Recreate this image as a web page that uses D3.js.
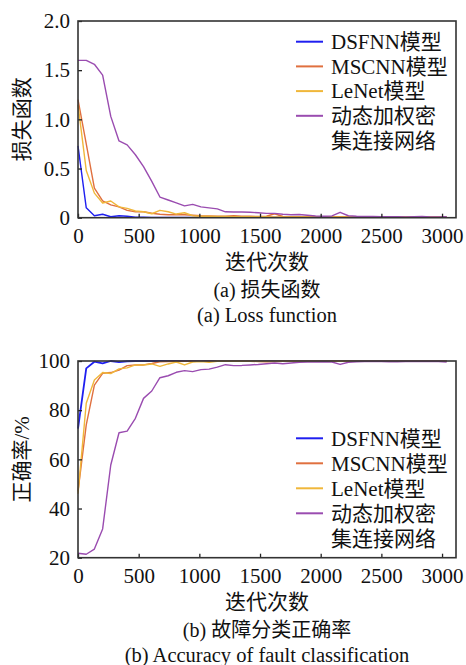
<!DOCTYPE html>
<html lang="zh">
<head>
<meta charset="UTF-8">
<title>损失函数与故障分类正确率</title>
<script src="https://d3js.org/d3.v7.min.js"></script>
<style>
  body, html { margin: 0; padding: 0; background: #fff; overflow: hidden; }
  svg text { font-family: "Liberation Serif", "Times New Roman", "Noto Sans CJK SC", serif; fill: #111; }
  .axis path { display: none; }
  .axis line { stroke: #222; stroke-width: 1.3px; }
  .axis text { font-size: 21px; font-family: "Liberation Serif", "Noto Sans CJK SC", serif; }
  .frame { fill: none; stroke: #333; stroke-width: 1.6px; }
</style>
</head>
<body>
<svg id="chart" width="466" height="665"></svg>
<script>
// iteration counts (x)
const iterations = [0, 68, 135, 203, 270, 338, 405, 473, 540, 608, 675, 743, 810, 878, 945, 1013,
  1080, 1148, 1215, 1283, 1350, 1418, 1485, 1553, 1620, 1688, 1755, 1823, 1890, 1958, 2025, 2093,
  2160, 2228, 2295, 2363, 2430, 2498, 2565, 2633, 2700, 2768, 2835, 2903, 2970, 3038];

const seriesNames = ["DSFNN模型", "MSCNN模型", "LeNet模型", "动态加权密\n集连接网络"];
const seriesColors = ["#1f1ff0", "#e0703f", "#f0b73a", "#9a4cb0"];

// (a) loss
const lossDSFNN = [0.73, 0.10, 0.02, 0.035, 0.01, 0.02, 0.015, 0.006, 0.004, 0.003, 0.003, 0.003, 0.003, 0.003, 0.003, 0.003,
  0.003, 0.003, 0.003, 0.003, 0.003, 0.003, 0.003, 0.003, 0.003, 0.003, 0.003, 0.003, 0.003, 0.003, 0.003, 0.003,
  0.003, 0.003, 0.003, 0.003, 0.003, 0.003, 0.003, 0.003, 0.003, 0.003, 0.003, 0.003, 0.003, 0.003];
const lossMSCNN = [1.20, 0.75, 0.30, 0.17, 0.13, 0.11, 0.075, 0.06, 0.06, 0.045, 0.035, 0.03, 0.03, 0.03, 0.025, 0.02,
  0.018, 0.015, 0.015, 0.02, 0.015, 0.015, 0.012, 0.015, 0.04, 0.012, 0.01, 0.01, 0.01, 0.009, 0.009, 0.009,
  0.009, 0.009, 0.008, 0.008, 0.008, 0.008, 0.008, 0.008, 0.008, 0.008, 0.008, 0.008, 0.008, 0.008];
const lossLeNet = [1.15, 0.48, 0.25, 0.15, 0.17, 0.11, 0.095, 0.068, 0.06, 0.04, 0.075, 0.06, 0.037, 0.05, 0.02, 0.015,
  0.015, 0.012, 0.012, 0.01, 0.01, 0.009, 0.009, 0.009, 0.008, 0.008, 0.008, 0.008, 0.008, 0.008, 0.008, 0.008,
  0.008, 0.008, 0.008, 0.008, 0.008, 0.008, 0.008, 0.008, 0.008, 0.008, 0.008, 0.008, 0.008, 0.008];
const lossDense = [1.60, 1.60, 1.56, 1.45, 1.03, 0.78, 0.74, 0.64, 0.52, 0.37, 0.21, 0.18, 0.15, 0.12, 0.135, 0.11,
  0.10, 0.09, 0.06, 0.058, 0.058, 0.056, 0.05, 0.044, 0.044, 0.035, 0.03, 0.033, 0.025, 0.018, 0.015, 0.018,
  0.055, 0.02, 0.015, 0.012, 0.012, 0.01, 0.01, 0.01, 0.008, 0.01, 0.012, 0.008, 0.008, 0.01];

// (b) accuracy, %
const accDSFNN = [72.5, 97.0, 99.7, 99.0, 100, 99.5, 99.9, 100, 100, 100, 100, 100, 100, 100, 100, 100,
  100, 100, 100, 100, 100, 100, 100, 100, 100, 100, 100, 100, 100, 100, 100, 100,
  100, 100, 100, 100, 100, 100, 100, 100, 100, 100, 100, 100, 100, 100];
const accMSCNN = [47, 74, 90.2, 95, 95.3, 96.3, 98.1, 98.4, 98.4, 99.0, 99.7, 99.8, 99.8, 99.9, 99.9, 99.9,
  99.9, 99.9, 99.9, 99.9, 99.9, 99.9, 99.8, 99.7, 99.8, 99.9, 99.9, 99.9, 99.9, 99.9, 99.9, 99.9,
  99.9, 99.9, 99.9, 99.9, 99.9, 99.9, 99.9, 99.9, 99.9, 99.9, 99.9, 99.9, 99.9, 99.9];
const accLeNet = [46, 82.8, 92.3, 95.3, 94.9, 96.8, 97.2, 98.4, 98.4, 98.8, 97.8, 98.8, 99.6, 98.4, 99.6, 99.8,
  99.5, 99.9, 99.9, 99.9, 99.9, 99.9, 99.9, 99.9, 99.9, 99.9, 99.9, 99.9, 99.9, 99.9, 99.9, 99.9,
  99.9, 99.9, 99.9, 99.9, 99.9, 99.9, 99.9, 99.9, 99.9, 99.9, 99.9, 99.9, 99.9, 99.9];
const accDense = [21.8, 21.4, 23.5, 31.7, 57.7, 70.8, 71.5, 76.7, 84.8, 87.8, 93.2, 94.0, 95.4, 96.1, 95.7, 96.5,
  96.7, 97.5, 98.5, 98.1, 98.2, 98.4, 98.6, 98.9, 99.2, 98.9, 99.2, 99.5, 99.6, 99.6, 99.7, 99.6,
  98.6, 99.5, 99.7, 99.8, 99.8, 99.8, 99.7, 99.7, 99.8, 99.8, 99.8, 99.8, 99.8, 99.6];

const xTicks = [0, 500, 1000, 1500, 2000, 2500, 3000];
const lossTicks = [0, 0.5, 1.0, 1.5, 2.0];
const accTicks = [20, 40, 60, 80, 100];

const svg = d3.select("#chart");
const left = 78, right = 456;

function drawPanel(opt) {
  const g = svg.append("g");
  const x = d3.scaleLinear().domain([0, 3115]).range([left, right]);
  const y = d3.scaleLinear().domain(opt.yDomain).range([opt.bottom, opt.top]);

  const line = d3.line().x((d, i) => x(iterations[i])).y(d => y(d));
  opt.series.forEach((s, k) => {
    g.append("path")
      .datum(s)
      .attr("fill", "none")
      .attr("stroke", seriesColors[k])
      .attr("stroke-width", opt.widths[k])
      .attr("stroke-linejoin", "round")
      .attr("d", line);
  });

  g.append("g").attr("class", "axis")
    .attr("transform", `translate(0,${opt.bottom})`)
    .call(d3.axisBottom(x).tickValues(xTicks).tickFormat(d3.format("d")).tickSizeInner(-4).tickSizeOuter(0).tickPadding(10));

  g.append("g").attr("class", "axis")
    .attr("transform", `translate(${left},0)`)
    .call(d3.axisLeft(y).tickValues(opt.yTicks).tickFormat(opt.fmt).tickSizeInner(-4).tickSizeOuter(0).tickPadding(8));

  g.append("rect").attr("class", "frame")
    .attr("x", left).attr("y", opt.top)
    .attr("width", right - left).attr("height", opt.bottom - opt.top);

  // legend
  const lg = g.append("g");
  seriesNames.forEach((name, k) => {
    const ly = opt.legendY + k * opt.legendStep;
    lg.append("line")
      .attr("x1", 296).attr("x2", 323).attr("y1", ly).attr("y2", ly)
      .attr("stroke", seriesColors[k]).attr("stroke-width", 2);
    name.split("\n").forEach((part, j) => {
      lg.append("text")
        .attr("x", 331).attr("y", ly + j * opt.legendStep)
        .attr("dy", "0.35em")
        .style("font-size", "21px")
        .text(part);
    });
  });

  const midX = (left + right) / 2;
  g.append("text").attr("x", midX).attr("y", opt.bottom + 44)
    .attr("text-anchor", "middle").attr("dy", "0.35em").style("font-size", "21px").text("迭代次数");
  g.append("text").attr("x", midX).attr("y", opt.bottom + 72)
    .attr("text-anchor", "middle").attr("dy", "0.35em").style("font-size", "20px").text(opt.caption1);
  g.append("text").attr("x", midX).attr("y", opt.bottom + 97)
    .attr("text-anchor", "middle").attr("dy", "0.35em").style("font-size", "20.5px").text(opt.caption2);

  g.append("text")
    .attr("transform", `translate(22,${(opt.top + opt.bottom) / 2}) rotate(-90)`)
    .attr("text-anchor", "middle").attr("dy", "0.35em").style("font-size", "21px")
    .text(opt.yTitle);
}

drawPanel({
  top: 21, bottom: 217.7, yDomain: [0, 2], yTicks: lossTicks,
  fmt: d => d === 0 ? "0" : d3.format(".1f")(d),
  series: [lossDSFNN, lossMSCNN, lossLeNet, lossDense],
  widths: [1.4, 1.4, 1.4, 1.4],
  legendY: 41.7, legendStep: 24.7,
  yTitle: "损失函数", caption1: "(a) 损失函数", caption2: "(a) Loss function"
});

drawPanel({
  top: 361, bottom: 557.7, yDomain: [20, 100], yTicks: accTicks,
  fmt: d3.format("d"),
  series: [accDSFNN, accMSCNN, accLeNet, accDense],
  widths: [1.8, 1.4, 1.4, 1.4],
  legendY: 438.3, legendStep: 25,
  yTitle: "正确率/%", caption1: "(b) 故障分类正确率", caption2: "(b) Accuracy of fault classification"
});
</script>
</body>
</html>
